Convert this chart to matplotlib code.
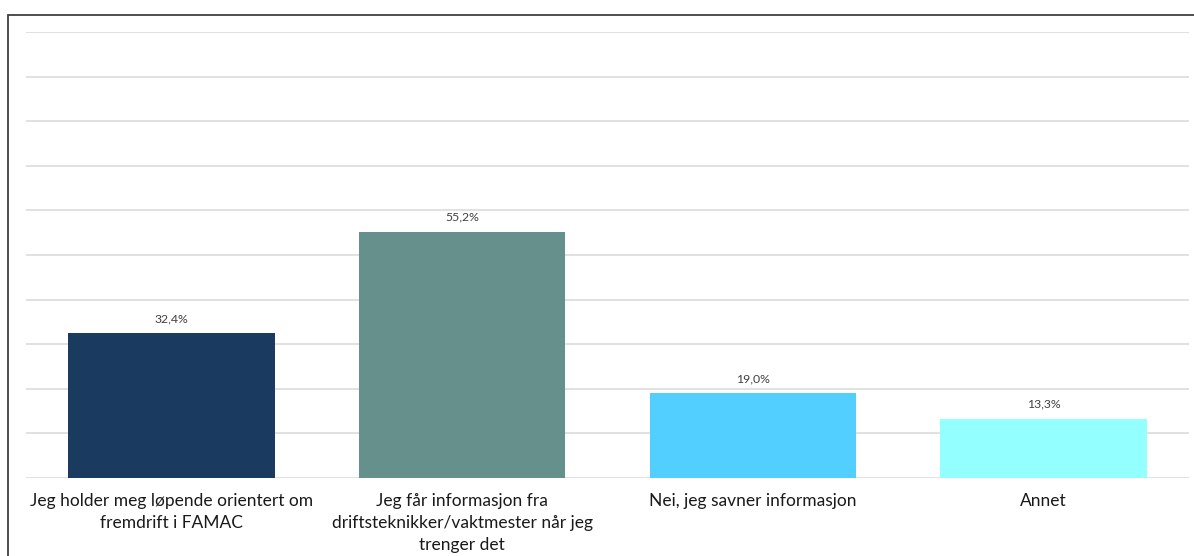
import matplotlib.pyplot as plt
from matplotlib.patches import Rectangle
import numpy as np

plt.rcParams['font.family'] = ['Lato', 'DejaVu Sans']

# data
categories = ["Jeg holder meg løpende orientert om\nfremdrift i FAMAC",
              "Jeg får informasjon fra\ndriftsteknikker/vaktmester når jeg\ntrenger det",
              "Nei, jeg savner informasjon",
              "Annet"]
values = [32.4, 55.2, 19.0, 13.3]
value_labels = ["32,4%", "55,2%", "19,0%", "13,3%"]
colors = ["#1A3A5F", "#66908C", "#52CFFF", "#94FFFF"]

W, H = 1194, 556
fig = plt.figure(figsize=(W/100, H/100), dpi=100)
ax = fig.add_axes([26/W, (H-478)/H, (1189-26)/W, (478-32)/H])

x = np.arange(len(categories))
ax.bar(x, values, width=0.71, color=colors, zorder=3)
for xi, v, lab in zip(x, values, value_labels):
    ax.text(xi, v + 2.0, lab, ha='center', va='bottom', fontsize=8.8, color='#404040')

ax.set_xlim(-0.5, len(categories) - 0.5)
ax.set_ylim(0, 100)
ax.set_yticks(np.arange(0, 101, 10))
ax.set_yticklabels([])
ax.tick_params(axis='y', length=0)
ax.grid(axis='y', color='#D9D9D9', linewidth=1.1, zorder=0)
ax.set_xticks(x)
ax.set_xticklabels(categories, fontsize=12.5, color='#1a1a1a', linespacing=1.45)
ax.tick_params(axis='x', length=0, pad=11)
for s in ax.spines.values():
    s.set_visible(False)

# outer frame of the chart
fig.add_artist(Rectangle((8/W, -0.1), 1.2, 1 - 15/H + 0.1, transform=fig.transFigure,
                         fill=False, edgecolor='#404040', linewidth=1.3))

fig.savefig("out.png", dpi=100)
